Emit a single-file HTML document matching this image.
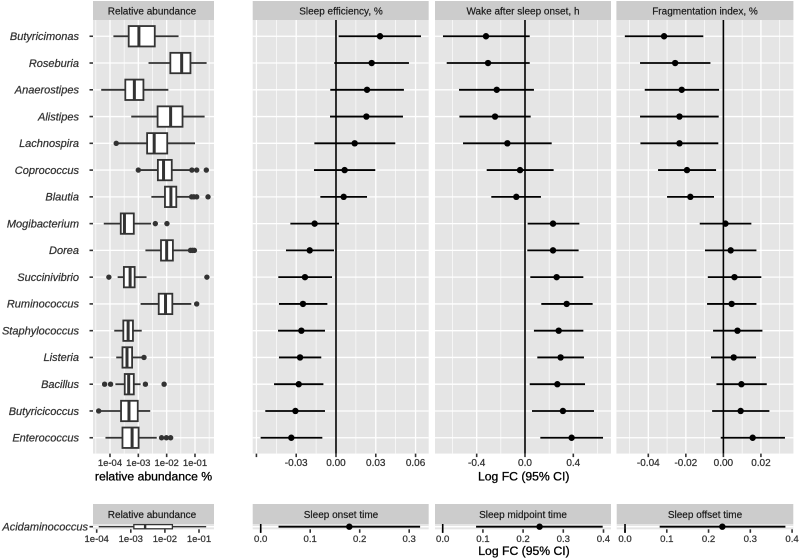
<!DOCTYPE html>
<html>
<head>
<meta charset="utf-8">
<title>Relative abundance and sleep associations</title>
<style>
html,body{margin:0;padding:0;background:#fff;width:800px;height:560px;overflow:hidden}
svg{display:block}
text{font-family:"Liberation Sans",sans-serif}
.strip{fill:#cccccc}
.panel{fill:#e5e5e5}
.strip-text{font-size:10px;fill:#1a1a1a;text-anchor:middle;stroke:#1a1a1a;stroke-width:0.2px}
.axis-title{font-size:12.2px;fill:#000;text-anchor:middle;stroke:#000;stroke-width:0.3px}
.fat{stroke:#333;stroke-width:0.25px}
</style>
</head>
<body>
<svg id="chart" width="800" height="560" viewBox="0 0 800 560" xmlns="http://www.w3.org/2000/svg">
  <rect x="0" y="0" width="800" height="560" fill="#fff"/>

  <rect class="strip" x="93" y="1" width="121" height="19"/>
  <rect class="strip" x="252.7" y="1" width="176" height="19"/>
  <rect class="strip" x="435" y="1" width="176" height="19"/>
  <rect class="strip" x="616.4" y="1" width="177" height="19"/>
  <text class="strip-text" x="152" y="14.5">Relative abundance</text>
  <text class="strip-text" x="341" y="14.5">Sleep efficiency, %</text>
  <text class="strip-text" x="523" y="14.5">Wake after sleep onset, h</text>
  <text class="strip-text" x="705" y="14.5">Fragmentation index, %</text>

  <rect class="panel" x="93" y="20" width="121" height="433.6"/>
  <rect class="panel" x="252.7" y="20" width="176" height="433.6"/>
  <rect class="panel" x="435" y="20" width="176" height="433.6"/>
  <rect class="panel" x="616.4" y="20" width="177" height="433.6"/>

  <rect class="strip" x="93" y="504" width="121" height="20"/>
  <rect class="strip" x="252.7" y="504" width="176" height="20"/>
  <rect class="strip" x="435" y="504" width="176" height="20"/>
  <rect class="strip" x="616.7" y="504" width="176.6" height="20"/>
  <text class="strip-text" x="152" y="518">Relative abundance</text>
  <text class="strip-text" x="341" y="518">Sleep onset time</text>
  <text class="strip-text" x="523" y="518">Sleep midpoint time</text>
  <text class="strip-text" x="705" y="518">Sleep offset time</text>

  <rect class="panel" x="93" y="524" width="121" height="5.3"/>
  <rect class="panel" x="252.7" y="524" width="176" height="5.3"/>
  <rect class="panel" x="435" y="524" width="176" height="5.3"/>
  <rect class="panel" x="616.7" y="524" width="176.6" height="5.3"/>

  <g id="layer-grid"></g>
  <g id="layer-axes"></g>
  <g id="layer-marks"></g>

  <text class="axis-title" x="153.5" y="480.5">relative abundance %</text>
  <text class="axis-title" x="523.7" y="480.5">Log FC (95% CI)</text>
  <text class="axis-title" x="524" y="555">Log FC (95% CI)</text>
</svg>

<script>
// ---- categories ----
const categories = ["Butyricimonas","Roseburia","Anaerostipes","Alistipes","Lachnospira","Coprococcus","Blautia","Mogibacterium","Dorea","Succinivibrio","Ruminococcus","Staphylococcus","Listeria","Bacillus","Butyricicoccus","Enterococcus"];
const bottomCategory = "Acidaminococcus";

// ---- box plot values, log10 of relative abundance ----
const boxLow    = [-3.88,-2.64,-4.31,-3.25,-3.78,-3.00,-2.54,-4.22,-2.75,-3.73,-2.92,-3.85,-3.78,-3.81,-4.40,-4.16];
const boxQ1     = [-3.34,-1.87,-3.46,-2.32,-2.69,-2.31,-2.06,-3.62,-2.20,-3.51,-2.28,-3.53,-3.56,-3.48,-3.61,-3.56];
const boxMedian = [-2.98,-1.47,-3.14,-1.86,-2.44,-2.11,-1.85,-3.49,-2.00,-3.29,-2.04,-3.36,-3.40,-3.34,-3.33,-3.22];
const boxQ3     = [-2.42,-1.16,-2.82,-1.44,-1.98,-1.82,-1.66,-3.16,-1.78,-3.13,-1.80,-3.19,-3.22,-3.16,-3.02,-2.99];
const boxHigh   = [-1.58,-0.59,-1.94,-0.66,-1.00,-1.18,-1.18,-2.55,-1.24,-2.71,-1.13,-2.88,-2.88,-2.92,-2.58,-2.35];
const boxOutliers = [[],[],[],[],[-3.78],[-3.00,-1.11,-0.94,-0.60],[-1.12,-1.04,-0.94,-0.54],[-2.40,-1.99],[-1.16,-1.09,-1.02],[-4.04,-0.58],[-0.94],[],[-2.80],[-4.19,-3.98,-2.75,-2.09],[-4.40],[-2.18,-2.01,-1.86]];

const bottomBox = [-3.94,-2.91,-2.58,-1.78,-0.79]; // low, q1, median, q3, high

// ---- forest values: sleep efficiency ----
const efficiencyLow  = [0.0020,-0.0013,-0.0043,-0.0045,-0.0163,-0.0166,-0.0118,-0.0344,-0.0377,-0.0435,-0.0430,-0.0437,-0.0430,-0.0467,-0.0533,-0.0568];
const efficiencyMid  = [0.0332,0.0269,0.0234,0.0229,0.0141,0.0065,0.0058,-0.0161,-0.0198,-0.0234,-0.0249,-0.0261,-0.0271,-0.0281,-0.0306,-0.0337];
const efficiencyHigh = [0.0641,0.0550,0.0512,0.0505,0.0447,0.0296,0.0234,0.0023,-0.0015,-0.0030,-0.0065,-0.0083,-0.0111,-0.0095,-0.0083,-0.0103];

// ---- forest values: wake after sleep onset ----
const wasoLow  = [-0.679,-0.648,-0.546,-0.543,-0.513,-0.317,-0.279,0.022,0.019,0.044,0.135,0.074,0.102,0.039,0.058,0.127];
const wasoMid  = [-0.323,-0.306,-0.234,-0.248,-0.146,-0.041,-0.072,0.232,0.232,0.262,0.345,0.279,0.295,0.268,0.314,0.386];
const wasoHigh = [0.039,0.039,0.074,0.047,0.221,0.237,0.132,0.450,0.444,0.483,0.560,0.483,0.488,0.497,0.571,0.646];

// ---- forest values: fragmentation index ----
const fragLow  = [-0.0525,-0.0444,-0.0419,-0.0444,-0.0442,-0.0348,-0.0300,-0.0126,-0.0098,-0.0083,-0.0087,-0.0055,-0.0066,-0.0037,-0.0060,-0.0014];
const fragMid  = [-0.0316,-0.0257,-0.0222,-0.0234,-0.0234,-0.0194,-0.0176,0.0011,0.0039,0.0059,0.0044,0.0075,0.0055,0.0096,0.0092,0.0156];
const fragHigh = [-0.0107,-0.0069,-0.0023,-0.0025,-0.0027,-0.0039,-0.0050,0.0149,0.0176,0.0202,0.0176,0.0208,0.0174,0.0231,0.0245,0.0328];

// ---- bottom forest values: low, mid, high ----
const onsetTime    = [0.036,0.179,0.322];
const midpointTime = [0.083,0.241,0.398];
const offsetTime   = [0.083,0.233,0.384];

// ---- ticks ----
const logTicks = [-4,-3,-2,-1];
const logTickLabels = ["1e-04","1e-03","1e-02","1e-01"];
const logMinor = [-4.5,-3.5,-2.5,-1.5,-0.5];
const efficiencyTicks = [-0.06,-0.03,0,0.03,0.06];
const efficiencyLabels = ["","-0.03","0.00","0.03","0.06"];
const efficiencyMinor = [-0.045,-0.015,0.015,0.045];
const wasoTicks = [-0.4,0,0.4];
const wasoLabels = ["-0.4","0.0","0.4"];
const wasoMinor = [-0.6,-0.2,0.2,0.6];
const fragTicks = [-0.04,-0.02,0,0.02];
const fragLabels = ["-0.04","-0.02","0.00","0.02"];
const fragMinor = [-0.05,-0.03,-0.01,0.01,0.03];
const timeTicks = [0,0.1,0.2,0.3];
const timeLabels = ["0.0","0.1","0.2","0.3"];
const time4Ticks = [0,0.1,0.2,0.3,0.4];
const time4Labels = ["0.0","0.1","0.2","0.3","0.4"];

// ---- scales ----
function linear(d0, d1, r0, r1) {
  return function (v) { return r0 + (v - d0) / (d1 - d0) * (r1 - r0); };
}
const rowTop = 20.2, rowBottom = 453.8;
const rowStep = (rowBottom - rowTop) / (categories.length - 1 + 1.2);
function rowY(i) { return rowTop + rowStep * (0.6 + i); }
const bottomRowY = 526.7;

const xAbund   = linear(-4.6, -0.329, 93, 214);
const xEff     = linear(-0.0628, 0.0699, 252.7, 428.7);
const xWaso    = linear(-0.745, 0.712, 435, 611);
const xFrag    = linear(-0.057, 0.0373, 616.4, 793.4);
const xAbundB  = linear(-4.108, -0.56, 93, 214);
const xOnset   = linear(-0.0162, 0.3394, 252.7, 428.7);
const xMid     = linear(-0.0192, 0.4187, 435, 611);
const xOff     = linear(-0.0199, 0.4029, 616.7, 793.3);

// ---- drawing helpers ----
const NS = "http://www.w3.org/2000/svg";
const gridLayer = document.getElementById("layer-grid");
const axesLayer = document.getElementById("layer-axes");
const marksLayer = document.getElementById("layer-marks");

function line(parent, x1, y1, x2, y2, stroke, width) {
  const el = document.createElementNS(NS, "line");
  el.setAttribute("x1", x1);
  el.setAttribute("y1", y1);
  el.setAttribute("x2", x2);
  el.setAttribute("y2", y2);
  el.setAttribute("stroke", stroke);
  el.setAttribute("stroke-width", width);
  parent.appendChild(el);
  return el;
}
function circle(parent, cx, cy, r, fill) {
  const el = document.createElementNS(NS, "circle");
  el.setAttribute("cx", cx);
  el.setAttribute("cy", cy);
  el.setAttribute("r", r);
  el.setAttribute("fill", fill);
  parent.appendChild(el);
  return el;
}
function label(parent, x, y, str, size, fill, anchor, italic) {
  const el = document.createElementNS(NS, "text");
  el.setAttribute("x", x);
  el.setAttribute("y", y);
  el.setAttribute("font-size", size);
  el.setAttribute("fill", fill);
  el.setAttribute("text-anchor", anchor);
  el.setAttribute("class", "fat");
  if (italic) el.setAttribute("font-style", "italic");
  el.textContent = str;
  parent.appendChild(el);
  return el;
}

function drawVerticalGrid(scale, major, minor, y0, y1) {
  minor.forEach(function (v) {
    const g = line(gridLayer, scale(v), y0, scale(v), y1, "#fff", 0.65);
    
    
  });
  major.forEach(function (v) {
    const g = line(gridLayer, scale(v), y0, scale(v), y1, "#fff", 1.3);
    
    
  });
}
function drawRowGrid(x0, x1) {
  categories.forEach(function (c, i) {
    const g = line(gridLayer, x0, rowY(i), x1, rowY(i), "#fff", 1.3);
    
    
  });
}
function drawXAxis(scale, ticks, labels, tickTop, labelY, size) {
  ticks.forEach(function (v, i) {
    const t = line(axesLayer, scale(v), tickTop, scale(v), tickTop + 3.5, "#333", 1.6);
    
    
    if (labels[i]) {
      const l = label(axesLayer, scale(v), labelY, labels[i], size, "#333", "middle", false);
      
      
    }
  });
}
function drawForestRow(scale, lo, mid, hi, y) {
  const w = line(marksLayer, scale(lo), y, scale(hi), y, "#000", 1.8);
  
  
  const p = circle(marksLayer, scale(mid), y, 3.2, "#000");
  
  
}
function drawZero(scale, y0, y1) {
  const z = line(marksLayer, scale(0), y0, scale(0), y1, "#000", 1.6);
  
  
}
function drawBox(scale, low, q1, med, q3, high, y, halfH, sw, medW) {
  const w1 = line(marksLayer, scale(low), y, scale(q1), y, "#333", sw);
  
  
  const w2 = line(marksLayer, scale(q3), y, scale(high), y, "#333", sw);
  
  
  const r = document.createElementNS(NS, "rect");
  r.setAttribute("x", scale(q1));
  r.setAttribute("y", y - halfH);
  r.setAttribute("width", scale(q3) - scale(q1));
  r.setAttribute("height", halfH * 2);
  r.setAttribute("fill", "#fff");
  r.setAttribute("stroke", "#333");
  r.setAttribute("stroke-width", sw);
  
  
  marksLayer.appendChild(r);
  const m = line(marksLayer, scale(med), y - halfH, scale(med), y + halfH, "#333", medW);
  
  
}

// ---- grid ----
drawVerticalGrid(xAbund, logTicks, logMinor, 20, 453.6);
drawVerticalGrid(xEff, efficiencyTicks, efficiencyMinor, 20, 453.6);
drawVerticalGrid(xWaso, wasoTicks, wasoMinor, 20, 453.6);
drawVerticalGrid(xFrag, fragTicks, fragMinor, 20, 453.6);
drawRowGrid(93, 214);
drawRowGrid(252.7, 428.7);
drawRowGrid(435, 611);
drawRowGrid(616.4, 793.4);
[[93, 214], [252.7, 428.7], [435, 611], [616.7, 793.3]].forEach(function (span) {
  const g = line(gridLayer, span[0], bottomRowY, span[1], bottomRowY, "#fff", 1.3);
  
  
});

// ---- axes ----
drawXAxis(xAbund, logTicks, logTickLabels, 453.6, 466, 9.5);
drawXAxis(xEff, efficiencyTicks, efficiencyLabels, 453.6, 466, 10);
drawXAxis(xWaso, wasoTicks, wasoLabels, 453.6, 466, 10);
drawXAxis(xFrag, fragTicks, fragLabels, 453.6, 466, 10);
drawXAxis(xAbundB, logTicks, logTickLabels, 529.3, 542, 9.5);
drawXAxis(xOnset, timeTicks, timeLabels, 529.3, 542, 9.6);
drawXAxis(xMid, time4Ticks, time4Labels, 529.3, 542, 9.6);
drawXAxis(xOff, time4Ticks, time4Labels, 529.3, 542, 9.6);

categories.forEach(function (c, i) {
  const t = line(axesLayer, 89.5, rowY(i), 93, rowY(i), "#333", 1.6);
  
  
  const l = label(axesLayer, 79, rowY(i) + 3.8, c, 11, "#333", "end", true);
  
  
});
const bottomTick = line(axesLayer, 89.5, bottomRowY, 93, bottomRowY, "#333", 1.6);


const bottomLabel = label(axesLayer, 88, bottomRowY + 3.8, bottomCategory, 11, "#333", "end", true);



// ---- box plots ----
categories.forEach(function (c, i) {
  drawBox(xAbund, boxLow[i], boxQ1[i], boxMedian[i], boxQ3[i], boxHigh[i], rowY(i), 10.2, 1.8, 3);
  boxOutliers[i].forEach(function (v) {
    const o = circle(marksLayer, xAbund(v), rowY(i), 2.7, "#333");
    
    
  });
});
drawBox(xAbundB, bottomBox[0], bottomBox[1], bottomBox[2], bottomBox[3], bottomBox[4], bottomRowY, 2.1, 1.3, 2.4);

// ---- forest panels ----
drawZero(xEff, 20, 453.6);
drawZero(xWaso, 20, 453.6);
drawZero(xFrag, 20, 453.6);
categories.forEach(function (c, i) {
  drawForestRow(xEff, efficiencyLow[i], efficiencyMid[i], efficiencyHigh[i], rowY(i));
  drawForestRow(xWaso, wasoLow[i], wasoMid[i], wasoHigh[i], rowY(i));
  drawForestRow(xFrag, fragLow[i], fragMid[i], fragHigh[i], rowY(i));
});
drawZero(xOnset, 524, 532.8);
drawZero(xMid, 524, 532.8);
drawZero(xOff, 524, 532.8);
drawForestRow(xOnset, onsetTime[0], onsetTime[1], onsetTime[2], bottomRowY);
drawForestRow(xMid, midpointTime[0], midpointTime[1], midpointTime[2], bottomRowY);
drawForestRow(xOff, offsetTime[0], offsetTime[1], offsetTime[2], bottomRowY);
</script>
</body>
</html>
